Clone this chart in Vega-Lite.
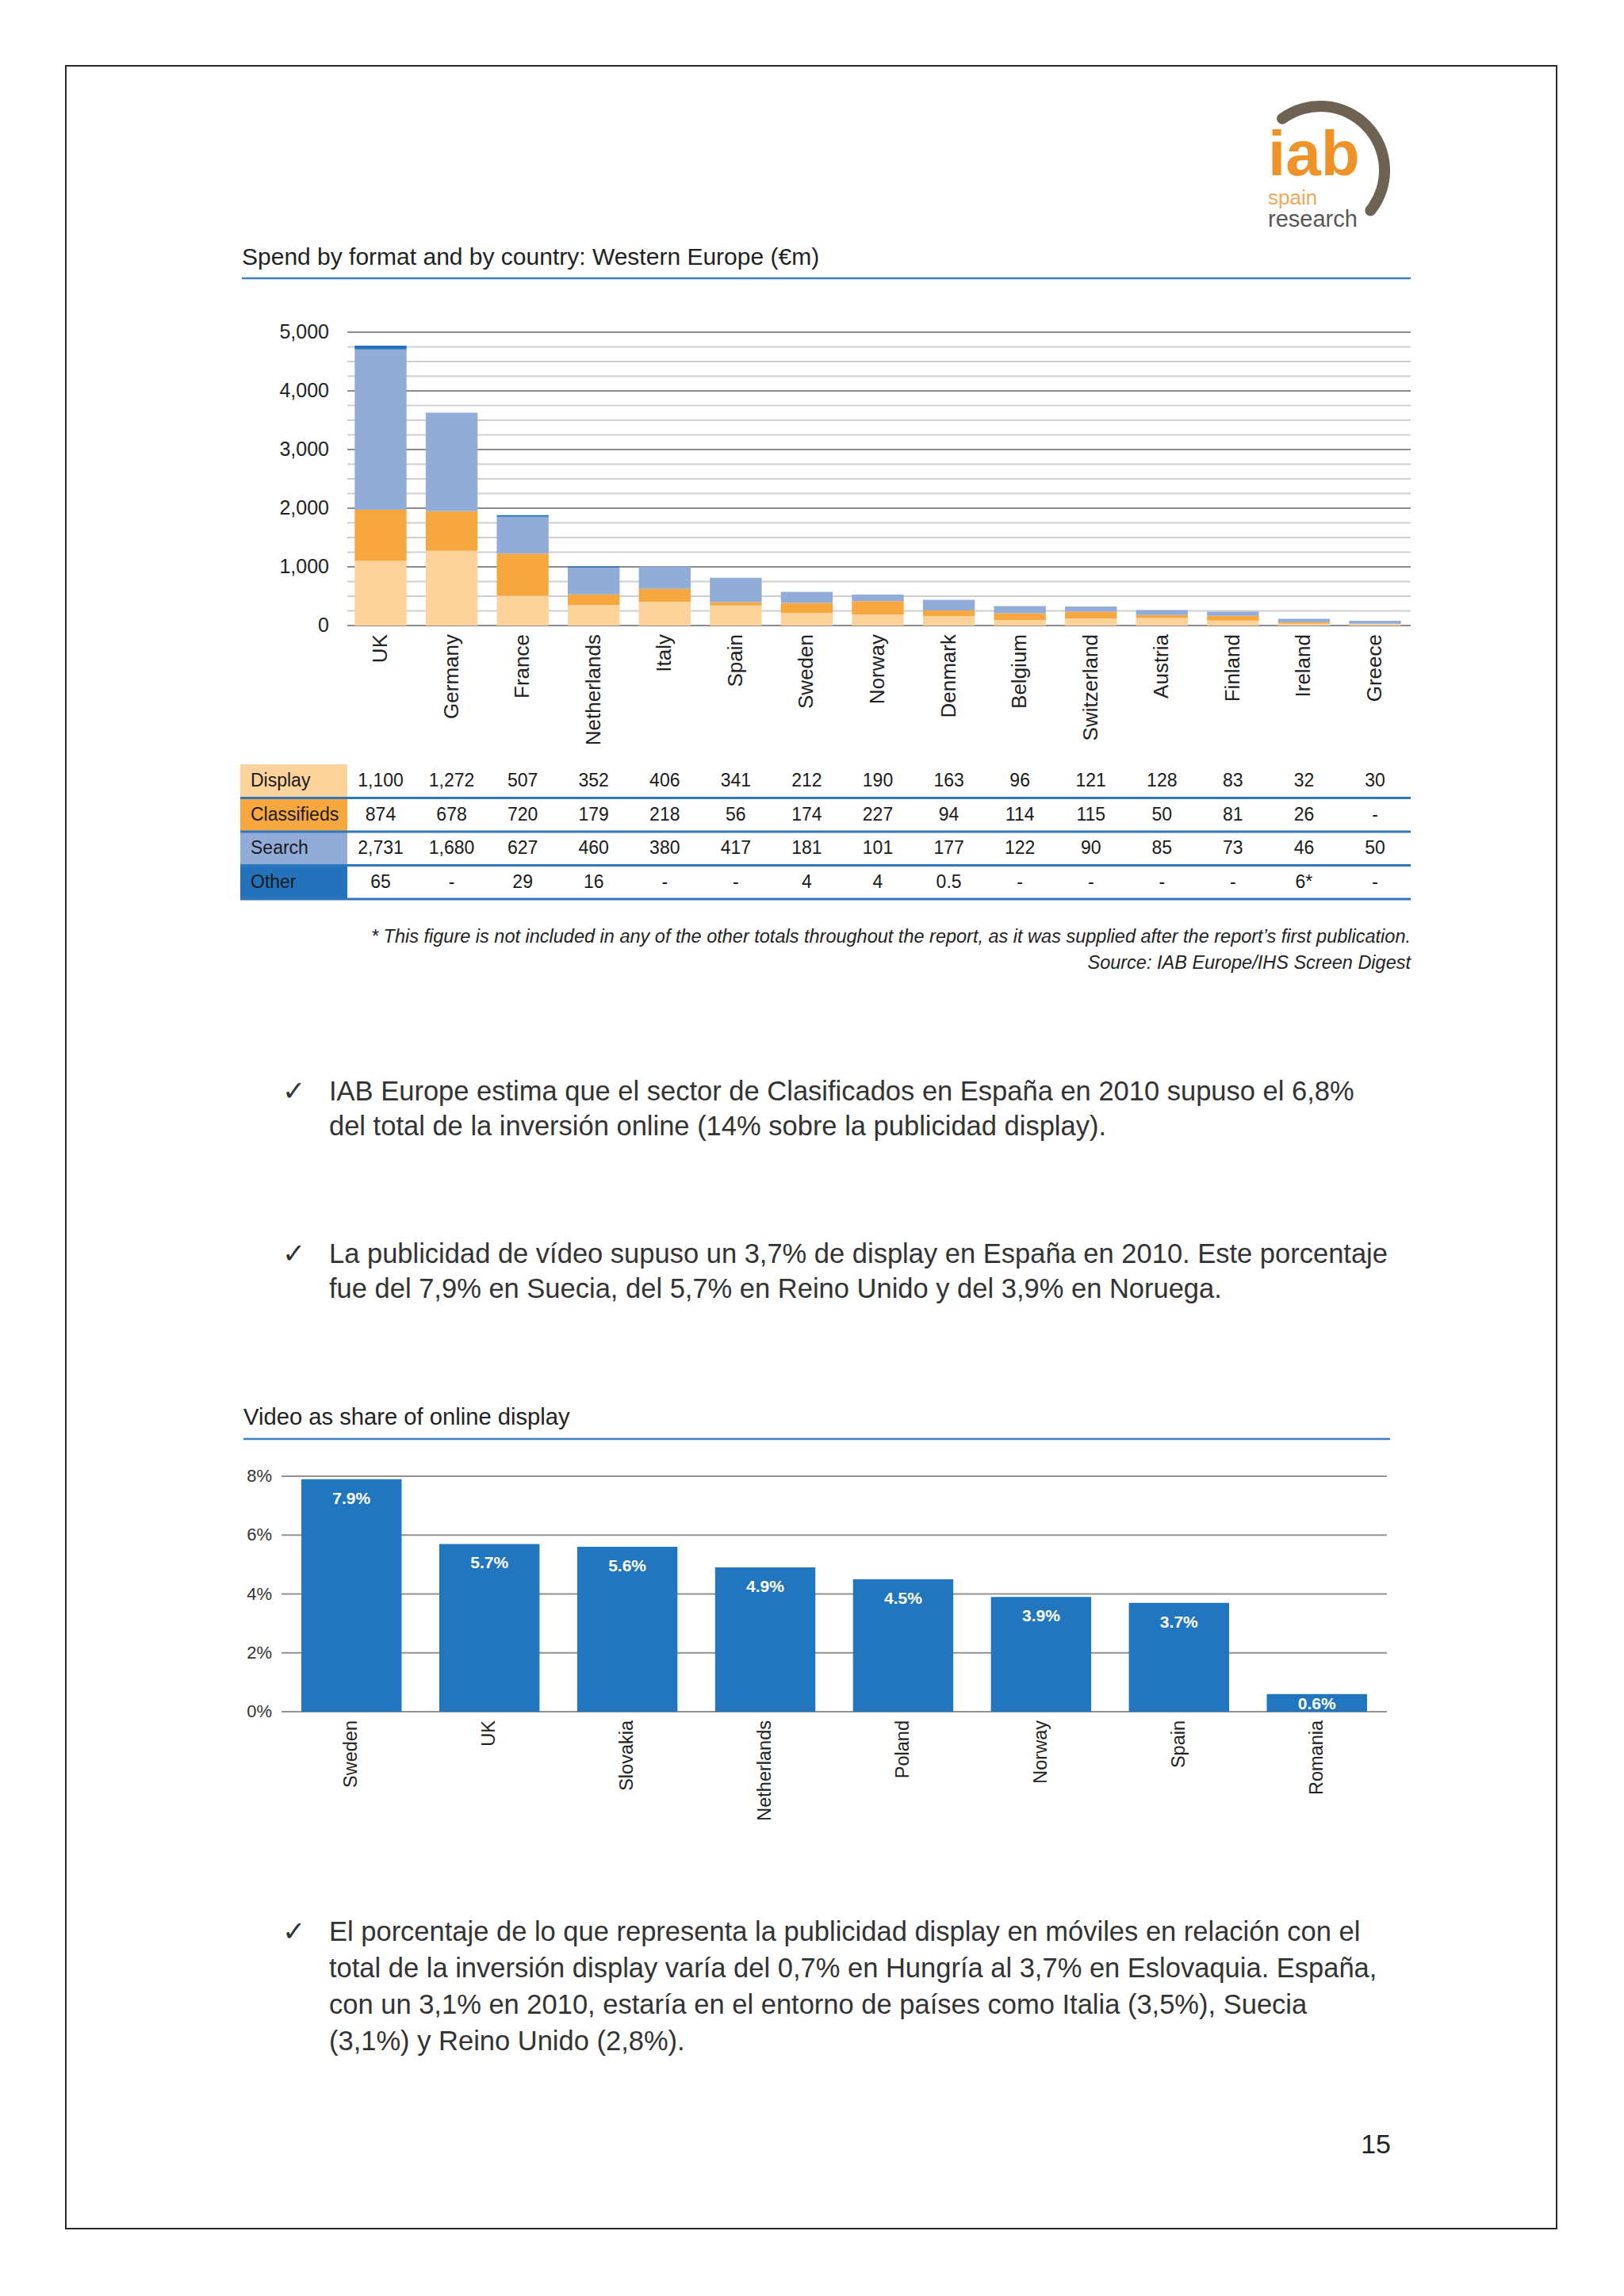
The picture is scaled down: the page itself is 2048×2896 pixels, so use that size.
{
  "$schema": "https://vega.github.io/schema/vega-lite/v6.json",
  "width": 1880,
  "height": 2728,
  "autosize": "none",
  "padding": {"left": 83, "top": 83, "right": 85, "bottom": 85},
  "background": "#ffffff",
  "config": {
    "view": {"stroke": "#2a2a2a", "strokeWidth": 2},
    "font": "Liberation Sans",
    "text": {"font": "Liberation Sans"},
    "axis": {"disable": true},
    "legend": {"disable": true}
  },
  "datasets": {
    "spend": [
      {"country": "UK", "format": "Display", "value": 1100, "label": "1,100"},
      {"country": "UK", "format": "Classifieds", "value": 874, "label": "874"},
      {"country": "UK", "format": "Search", "value": 2731, "label": "2,731"},
      {"country": "UK", "format": "Other", "value": 65, "label": "65"},
      {"country": "Germany", "format": "Display", "value": 1272, "label": "1,272"},
      {"country": "Germany", "format": "Classifieds", "value": 678, "label": "678"},
      {"country": "Germany", "format": "Search", "value": 1680, "label": "1,680"},
      {"country": "Germany", "format": "Other", "value": 0, "label": "-"},
      {"country": "France", "format": "Display", "value": 507, "label": "507"},
      {"country": "France", "format": "Classifieds", "value": 720, "label": "720"},
      {"country": "France", "format": "Search", "value": 627, "label": "627"},
      {"country": "France", "format": "Other", "value": 29, "label": "29"},
      {"country": "Netherlands", "format": "Display", "value": 352, "label": "352"},
      {"country": "Netherlands", "format": "Classifieds", "value": 179, "label": "179"},
      {"country": "Netherlands", "format": "Search", "value": 460, "label": "460"},
      {"country": "Netherlands", "format": "Other", "value": 16, "label": "16"},
      {"country": "Italy", "format": "Display", "value": 406, "label": "406"},
      {"country": "Italy", "format": "Classifieds", "value": 218, "label": "218"},
      {"country": "Italy", "format": "Search", "value": 380, "label": "380"},
      {"country": "Italy", "format": "Other", "value": 0, "label": "-"},
      {"country": "Spain", "format": "Display", "value": 341, "label": "341"},
      {"country": "Spain", "format": "Classifieds", "value": 56, "label": "56"},
      {"country": "Spain", "format": "Search", "value": 417, "label": "417"},
      {"country": "Spain", "format": "Other", "value": 0, "label": "-"},
      {"country": "Sweden", "format": "Display", "value": 212, "label": "212"},
      {"country": "Sweden", "format": "Classifieds", "value": 174, "label": "174"},
      {"country": "Sweden", "format": "Search", "value": 181, "label": "181"},
      {"country": "Sweden", "format": "Other", "value": 4, "label": "4"},
      {"country": "Norway", "format": "Display", "value": 190, "label": "190"},
      {"country": "Norway", "format": "Classifieds", "value": 227, "label": "227"},
      {"country": "Norway", "format": "Search", "value": 101, "label": "101"},
      {"country": "Norway", "format": "Other", "value": 4, "label": "4"},
      {"country": "Denmark", "format": "Display", "value": 163, "label": "163"},
      {"country": "Denmark", "format": "Classifieds", "value": 94, "label": "94"},
      {"country": "Denmark", "format": "Search", "value": 177, "label": "177"},
      {"country": "Denmark", "format": "Other", "value": 0.5, "label": "0.5"},
      {"country": "Belgium", "format": "Display", "value": 96, "label": "96"},
      {"country": "Belgium", "format": "Classifieds", "value": 114, "label": "114"},
      {"country": "Belgium", "format": "Search", "value": 122, "label": "122"},
      {"country": "Belgium", "format": "Other", "value": 0, "label": "-"},
      {"country": "Switzerland", "format": "Display", "value": 121, "label": "121"},
      {"country": "Switzerland", "format": "Classifieds", "value": 115, "label": "115"},
      {"country": "Switzerland", "format": "Search", "value": 90, "label": "90"},
      {"country": "Switzerland", "format": "Other", "value": 0, "label": "-"},
      {"country": "Austria", "format": "Display", "value": 128, "label": "128"},
      {"country": "Austria", "format": "Classifieds", "value": 50, "label": "50"},
      {"country": "Austria", "format": "Search", "value": 85, "label": "85"},
      {"country": "Austria", "format": "Other", "value": 0, "label": "-"},
      {"country": "Finland", "format": "Display", "value": 83, "label": "83"},
      {"country": "Finland", "format": "Classifieds", "value": 81, "label": "81"},
      {"country": "Finland", "format": "Search", "value": 73, "label": "73"},
      {"country": "Finland", "format": "Other", "value": 0, "label": "-"},
      {"country": "Ireland", "format": "Display", "value": 32, "label": "32"},
      {"country": "Ireland", "format": "Classifieds", "value": 26, "label": "26"},
      {"country": "Ireland", "format": "Search", "value": 46, "label": "46"},
      {"country": "Ireland", "format": "Other", "value": 6, "label": "6*"},
      {"country": "Greece", "format": "Display", "value": 30, "label": "30"},
      {"country": "Greece", "format": "Classifieds", "value": 0, "label": "-"},
      {"country": "Greece", "format": "Search", "value": 50, "label": "50"},
      {"country": "Greece", "format": "Other", "value": 0, "label": "-"}
    ],
    "video": [
      {"country": "Sweden", "share": 0.079},
      {"country": "UK", "share": 0.057},
      {"country": "Slovakia", "share": 0.056},
      {"country": "Netherlands", "share": 0.049},
      {"country": "Poland", "share": 0.045},
      {"country": "Norway", "share": 0.039},
      {"country": "Spain", "share": 0.037},
      {"country": "Romania", "share": 0.006}
    ],
    "formats": [
      {"format": "Display"},
      {"format": "Classifieds"},
      {"format": "Search"},
      {"format": "Other"}
    ]
  },
  "resolve": {"scale": {"x": "independent", "y": "independent", "color": "independent"}},
  "layer": [
    {
      "layer": [
        {
          "data": {"values": [{"part": "iab", "text": "iab"}]},
          "mark": {"type": "text", "align": "left", "baseline": "alphabetic", "fontSize": 80, "fontWeight": "bold", "color": "#ef9228"},
          "encoding": {
            "x": {"datum": 0, "type": "quantitative", "scale": {"domain": [0, 1], "range": [1516, 1646], "nice": false, "zero": false}, "axis": null},
            "y": {"datum": 0.08, "type": "quantitative", "scale": {"domain": [0, 1], "range": [132, 203], "nice": false, "zero": false}, "axis": null},
            "text": {"field": "text"}
          }
        },
        {
          "data": {"values": [{"part": "spain", "text": "spain"}]},
          "mark": {"type": "text", "align": "left", "baseline": "alphabetic", "fontSize": 26, "color": "#f2a65a"},
          "encoding": {
            "x": {"datum": 0, "type": "quantitative", "axis": null},
            "y": {"datum": 0.6, "type": "quantitative", "axis": null},
            "text": {"field": "text"}
          }
        },
        {
          "data": {"values": [{"part": "research", "text": "research"}]},
          "mark": {"type": "text", "align": "left", "baseline": "alphabetic", "fontSize": 29, "color": "#575757"},
          "encoding": {
            "x": {"datum": 0, "type": "quantitative", "axis": null},
            "y": {"datum": 1, "type": "quantitative", "axis": null},
            "text": {"field": "text"}
          }
        },
        {
          "data": {"values": [{"part": "arc"}]},
          "mark": {"type": "arc", "theta": -0.72, "theta2": 2.33, "radius": 88, "radius2": 74, "cornerRadius": 7, "color": "#6e6253"},
          "encoding": {
            "x": {"datum": 0.508, "type": "quantitative", "axis": null},
            "y": {"datum": 0, "type": "quantitative", "axis": null}
          }
        }
      ]
    },
    {
      "layer": [
        {
          "data": {"values": [{"text": "Spend by format and by country: Western Europe (€m)"}]},
          "mark": {"type": "text", "align": "left", "baseline": "middle", "fontSize": 30, "color": "#222222"},
          "encoding": {
            "x": {"datum": 0, "type": "quantitative", "scale": {"domain": [0, 1], "range": [222, 1696], "nice": false, "zero": false}, "axis": null},
            "y": {"datum": 0, "type": "quantitative", "scale": {"domain": [0, 1], "range": [242, 268], "nice": false, "zero": false}, "axis": null},
            "text": {"field": "text"}
          }
        },
        {
          "data": {"values": [{"part": "rule"}]},
          "mark": {"type": "rule", "color": "#3d7fc1", "strokeWidth": 2.5},
          "encoding": {
            "x": {"datum": 0, "type": "quantitative", "axis": null},
            "x2": {"datum": 1},
            "y": {"datum": 1, "type": "quantitative", "axis": null}
          }
        }
      ]
    },
    {
      "data": {"values": [
        {"v": 0, "kind": "major"}, {"v": 250, "kind": "minor"}, {"v": 500, "kind": "minor"}, {"v": 750, "kind": "minor"},
        {"v": 1000, "kind": "major"}, {"v": 1250, "kind": "minor"}, {"v": 1500, "kind": "minor"}, {"v": 1750, "kind": "minor"},
        {"v": 2000, "kind": "major"}, {"v": 2250, "kind": "minor"}, {"v": 2500, "kind": "minor"}, {"v": 2750, "kind": "minor"},
        {"v": 3000, "kind": "major"}, {"v": 3250, "kind": "minor"}, {"v": 3500, "kind": "minor"}, {"v": 3750, "kind": "minor"},
        {"v": 4000, "kind": "major"}, {"v": 4250, "kind": "minor"}, {"v": 4500, "kind": "minor"}, {"v": 4750, "kind": "minor"},
        {"v": 5000, "kind": "major"}
      ]},
      "layer": [
        {
          "mark": {"type": "rule", "strokeWidth": 2},
          "encoding": {
            "x": {"datum": 0, "type": "quantitative", "scale": {"domain": [0, 1], "range": [355, 1696], "nice": false, "zero": false}, "axis": null},
            "x2": {"datum": 1},
            "y": {"field": "v", "type": "quantitative", "scale": {"domain": [0, 5000], "range": [706, 336], "nice": false, "zero": false}, "axis": null},
            "color": {"field": "kind", "type": "nominal", "scale": {"domain": ["major", "minor"], "range": ["#8c8c8c", "#cfcfcf"]}, "legend": null}
          }
        },
        {
          "transform": [{"filter": "datum.kind == 'major'"}],
          "mark": {"type": "text", "align": "right", "baseline": "middle", "dx": -23, "fontSize": 25, "color": "#222222"},
          "encoding": {
            "x": {"datum": 0, "type": "quantitative", "axis": null},
            "y": {"field": "v", "type": "quantitative", "axis": null},
            "text": {"field": "v", "type": "quantitative", "format": ",d"}
          }
        }
      ]
    },
    {
      "data": {"name": "spend"},
      "layer": [
        {
          "transform": [{"window": [{"op": "row_number", "as": "stackRank"}], "groupby": ["country"]}],
          "mark": {"type": "bar"},
          "encoding": {
            "x": {"field": "country", "type": "nominal", "sort": null, "scale": {"type": "band", "domain": ["UK", "Germany", "France", "Netherlands", "Italy", "Spain", "Sweden", "Norway", "Denmark", "Belgium", "Switzerland", "Austria", "Finland", "Ireland", "Greece"], "range": [352.2, 1695.8], "paddingInner": 0.27, "paddingOuter": 0.135}, "axis": null},
            "y": {"field": "value", "type": "quantitative", "stack": "zero", "scale": {"domain": [0, 5000], "range": [706, 336], "nice": false, "zero": false}, "axis": null},
            "color": {"field": "format", "type": "nominal", "scale": {"domain": ["Display", "Classifieds", "Search", "Other"], "range": ["#fdd39b", "#f6a83f", "#92acda", "#2372bb"]}, "legend": null},
            "order": {"field": "stackRank", "type": "quantitative", "sort": "ascending"}
          }
        },
        {
          "transform": [{"filter": "datum.format == 'Display'"}],
          "mark": {"type": "text", "angle": 270, "align": "right", "baseline": "middle", "dx": -11, "fontSize": 26, "color": "#222222"},
          "encoding": {
            "x": {"field": "country", "type": "nominal", "sort": null, "axis": null},
            "y": {"datum": 0, "type": "quantitative", "axis": null},
            "text": {"field": "country"}
          }
        }
      ]
    },
    {
      "data": {"name": "spend"},
      "mark": {"type": "text", "align": "center", "baseline": "middle", "fontSize": 23, "color": "#1a1a1a"},
      "encoding": {
        "x": {"field": "country", "type": "nominal", "sort": null, "scale": {"type": "band", "domain": ["UK", "Germany", "France", "Netherlands", "Italy", "Spain", "Sweden", "Norway", "Denmark", "Belgium", "Switzerland", "Austria", "Finland", "Ireland", "Greece"], "range": [352.2, 1695.8], "paddingInner": 0.27, "paddingOuter": 0.135}, "axis": null},
        "y": {"field": "format", "type": "nominal", "sort": null, "scale": {"type": "band", "domain": ["Display", "Classifieds", "Search", "Other"], "range": [881, 1051], "paddingInner": 0, "paddingOuter": 0}, "axis": null},
        "text": {"field": "label"}
      }
    },
    {
      "data": {"name": "formats"},
      "layer": [
        {
          "mark": {"type": "rect"},
          "encoding": {
            "x": {"datum": 0, "type": "quantitative", "scale": {"domain": [0, 1], "range": [220, 355], "nice": false, "zero": false}, "axis": null},
            "x2": {"datum": 1},
            "y": {"field": "format", "type": "nominal", "sort": null, "scale": {"type": "band", "domain": ["Display", "Classifieds", "Search", "Other"], "range": [881, 1051], "paddingInner": 0, "paddingOuter": 0}, "axis": null},
            "color": {"field": "format", "type": "nominal", "scale": {"domain": ["Display", "Classifieds", "Search", "Other"], "range": ["#fdd39b", "#f6a83f", "#92acda", "#2372bb"]}, "legend": null}
          }
        },
        {
          "mark": {"type": "text", "align": "left", "baseline": "middle", "dx": 13, "fontSize": 23, "color": "#1a1a1a"},
          "encoding": {
            "x": {"datum": 0, "type": "quantitative", "axis": null},
            "y": {"field": "format", "type": "nominal", "sort": null, "axis": null},
            "text": {"field": "format"}
          }
        }
      ]
    },
    {
      "data": {"name": "formats"},
      "mark": {"type": "rule", "color": "#2e77bd", "strokeWidth": 3},
      "encoding": {
        "x": {"datum": 0, "type": "quantitative", "scale": {"domain": [0, 1], "range": [220, 1696], "nice": false, "zero": false}, "axis": null},
        "x2": {"datum": 1},
        "y": {"field": "format", "type": "nominal", "sort": null, "scale": {"type": "point", "domain": ["Display", "Classifieds", "Search", "Other"], "range": [923.5, 1051], "padding": 0}, "axis": null}
      }
    },
    {
      "data": {"values": [
        {"line": 1, "text": "* This figure is not included in any of the other totals throughout the report, as it was supplied after the report’s first publication."},
        {"line": 2, "text": "Source: IAB Europe/IHS Screen Digest"}
      ]},
      "mark": {"type": "text", "align": "right", "baseline": "middle", "fontSize": 23.5, "fontStyle": "italic", "color": "#222222"},
      "encoding": {
        "x": {"datum": 1, "type": "quantitative", "scale": {"domain": [0, 1], "range": [384, 1696], "nice": false, "zero": false}, "axis": null},
        "y": {"field": "line", "type": "ordinal", "scale": {"type": "point", "domain": [1, 2], "range": [1099, 1132], "padding": 0}, "axis": null},
        "text": {"field": "text"}
      }
    },
    {
      "data": {"values": [
        {"col": "mark", "line": 1, "text": "✓"},
        {"col": "text", "line": 1, "text": "IAB Europe estima que el sector de Clasificados en España en 2010 supuso el 6,8%"},
        {"col": "text", "line": 2, "text": "del total de la inversión online (14% sobre la publicidad display)."}
      ]},
      "mark": {"type": "text", "align": "left", "baseline": "middle", "fontSize": 34.5, "color": "#333333"},
      "encoding": {
        "x": {"field": "col", "type": "nominal", "scale": {"type": "point", "domain": ["mark", "text"], "range": [273, 332], "padding": 0}, "axis": null},
        "y": {"field": "line", "type": "ordinal", "scale": {"type": "point", "domain": [1, 2], "range": [1295, 1339], "padding": 0}, "axis": null},
        "text": {"field": "text"}
      }
    },
    {
      "data": {"values": [
        {"col": "mark", "line": 1, "text": "✓"},
        {"col": "text", "line": 1, "text": "La publicidad de vídeo supuso un 3,7% de display en España en 2010. Este porcentaje"},
        {"col": "text", "line": 2, "text": "fue del 7,9% en Suecia, del 5,7% en Reino Unido y del 3,9% en Noruega."}
      ]},
      "mark": {"type": "text", "align": "left", "baseline": "middle", "fontSize": 34.5, "color": "#333333"},
      "encoding": {
        "x": {"field": "col", "type": "nominal", "scale": {"type": "point", "domain": ["mark", "text"], "range": [273, 332], "padding": 0}, "axis": null},
        "y": {"field": "line", "type": "ordinal", "scale": {"type": "point", "domain": [1, 2], "range": [1500, 1544], "padding": 0}, "axis": null},
        "text": {"field": "text"}
      }
    },
    {
      "layer": [
        {
          "data": {"values": [{"text": "Video as share of online display"}]},
          "mark": {"type": "text", "align": "left", "baseline": "middle", "fontSize": 29.2, "color": "#222222"},
          "encoding": {
            "x": {"datum": 0, "type": "quantitative", "scale": {"domain": [0, 1], "range": [224, 1670], "nice": false, "zero": false}, "axis": null},
            "y": {"datum": 0, "type": "quantitative", "scale": {"domain": [0, 1], "range": [1705, 1732], "nice": false, "zero": false}, "axis": null},
            "text": {"field": "text"}
          }
        },
        {
          "data": {"values": [{"part": "rule"}]},
          "mark": {"type": "rule", "color": "#3d7fc1", "strokeWidth": 2.5},
          "encoding": {
            "x": {"datum": 0, "type": "quantitative", "axis": null},
            "x2": {"datum": 1},
            "y": {"datum": 1, "type": "quantitative", "axis": null}
          }
        }
      ]
    },
    {
      "data": {"values": [{"v": 0}, {"v": 0.02}, {"v": 0.04}, {"v": 0.06}, {"v": 0.08}]},
      "layer": [
        {
          "mark": {"type": "rule", "strokeWidth": 2, "color": "#929292"},
          "encoding": {
            "x": {"datum": 0, "type": "quantitative", "scale": {"domain": [0, 1], "range": [272, 1666], "nice": false, "zero": false}, "axis": null},
            "x2": {"datum": 1},
            "y": {"field": "v", "type": "quantitative", "scale": {"domain": [0, 0.08], "range": [2076, 1779], "nice": false, "zero": false}, "axis": null}
          }
        },
        {
          "mark": {"type": "text", "align": "right", "baseline": "middle", "dx": -12, "fontSize": 22, "color": "#333333"},
          "encoding": {
            "x": {"datum": 0, "type": "quantitative", "axis": null},
            "y": {"field": "v", "type": "quantitative", "axis": null},
            "text": {"field": "v", "type": "quantitative", "format": ".0%"}
          }
        }
      ]
    },
    {
      "data": {"name": "video"},
      "layer": [
        {
          "mark": {"type": "bar", "color": "#2176bf"},
          "encoding": {
            "x": {"field": "country", "type": "nominal", "sort": null, "scale": {"type": "band", "domain": ["Sweden", "UK", "Slovakia", "Netherlands", "Poland", "Norway", "Spain", "Romania"], "range": [272, 1666], "paddingInner": 0.273, "paddingOuter": 0.144}, "axis": null},
            "y": {"field": "share", "type": "quantitative", "scale": {"domain": [0, 0.08], "range": [2076, 1779], "nice": false, "zero": false}, "axis": null}
          }
        },
        {
          "transform": [{"filter": "datum.share >= 0.01"}],
          "mark": {"type": "text", "align": "center", "baseline": "top", "dy": 14, "fontSize": 21, "fontWeight": "bold", "color": "#ffffff"},
          "encoding": {
            "x": {"field": "country", "type": "nominal", "sort": null, "axis": null},
            "y": {"field": "share", "type": "quantitative", "axis": null},
            "text": {"field": "share", "type": "quantitative", "format": ".1%"}
          }
        },
        {
          "transform": [{"filter": "datum.share < 0.01"}],
          "mark": {"type": "text", "align": "center", "baseline": "alphabetic", "dy": -3, "fontSize": 21, "fontWeight": "bold", "color": "#ffffff"},
          "encoding": {
            "x": {"field": "country", "type": "nominal", "sort": null, "axis": null},
            "y": {"datum": 0, "type": "quantitative", "axis": null},
            "text": {"field": "share", "type": "quantitative", "format": ".1%"}
          }
        },
        {
          "mark": {"type": "text", "angle": 270, "align": "right", "baseline": "middle", "dx": -11, "fontSize": 23.5, "color": "#222222"},
          "encoding": {
            "x": {"field": "country", "type": "nominal", "sort": null, "axis": null},
            "y": {"datum": 0, "type": "quantitative", "axis": null},
            "text": {"field": "country"}
          }
        }
      ]
    },
    {
      "data": {"values": [
        {"col": "mark", "line": 1, "text": "✓"},
        {"col": "text", "line": 1, "text": "El porcentaje de lo que representa la publicidad display en móviles en relación con el"},
        {"col": "text", "line": 2, "text": "total de la inversión display varía del 0,7% en Hungría al 3,7% en Eslovaquia. España,"},
        {"col": "text", "line": 3, "text": "con un 3,1% en 2010, estaría en el entorno de países como Italia (3,5%), Suecia"},
        {"col": "text", "line": 4, "text": "(3,1%) y Reino Unido (2,8%)."}
      ]},
      "mark": {"type": "text", "align": "left", "baseline": "middle", "fontSize": 34.5, "color": "#333333"},
      "encoding": {
        "x": {"field": "col", "type": "nominal", "scale": {"type": "point", "domain": ["mark", "text"], "range": [273, 332], "padding": 0}, "axis": null},
        "y": {"field": "line", "type": "ordinal", "scale": {"type": "point", "domain": [1, 2, 3, 4], "range": [2355, 2493], "padding": 0}, "axis": null},
        "text": {"field": "text"}
      }
    },
    {
      "data": {"values": [{"text": "15"}]},
      "mark": {"type": "text", "align": "right", "baseline": "middle", "fontSize": 34, "color": "#222222"},
      "encoding": {
        "x": {"datum": 1, "type": "quantitative", "scale": {"domain": [0, 1], "range": [332, 1671], "nice": false, "zero": false}, "axis": null},
        "y": {"datum": 0, "type": "quantitative", "scale": {"domain": [0, 1], "range": [2623, 2660], "nice": false, "zero": false}, "axis": null},
        "text": {"field": "text"}
      }
    }
  ]
}
